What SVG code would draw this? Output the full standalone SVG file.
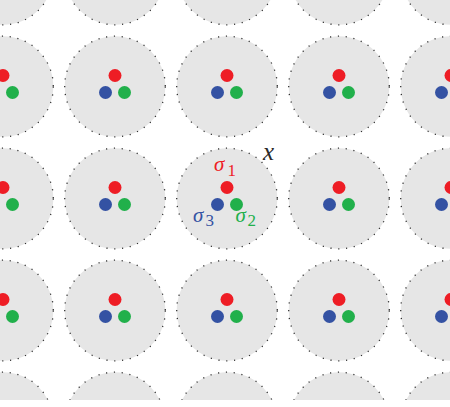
<svg xmlns="http://www.w3.org/2000/svg" xmlns:xlink="http://www.w3.org/1999/xlink" width="450" height="407" viewBox="0 0 450 407">
<style>
.disk{fill:#e6e6e6;stroke:#333;stroke-width:1.3;stroke-dasharray:1.2 6.65}
.r{fill:#ee1d25}.b{fill:#3452a3}.g{fill:#21b04b}
.lab{font-family:"Liberation Serif","DejaVu Serif",serif;font-style:italic}
.sub{font-family:"Liberation Serif","DejaVu Serif",serif;font-style:normal;font-size:17px}
.sig{font-size:21px}
</style>
<defs>
<clipPath id="frame"><rect x="0" y="0" width="450" height="400"/></clipPath>
<g id="cell">
<circle class="disk" cx="0" cy="0" r="50.3"/>
<circle class="r" cx="0" cy="-11" r="6.5"/>
<circle class="b" cx="-9.5" cy="6" r="6.5"/>
<circle class="g" cx="9.5" cy="6" r="6.5"/>
</g>
</defs>
<rect width="450" height="407" fill="#fff"/>
<g clip-path="url(#frame)">
<g id="row0">
<g id="n00"><use xlink:href="#cell" x="3" y="-25.5"/></g>
<g id="n01"><use xlink:href="#cell" x="115" y="-25.5"/></g>
<g id="n02"><use xlink:href="#cell" x="227" y="-25.5"/></g>
<g id="n03"><use xlink:href="#cell" x="339" y="-25.5"/></g>
<g id="n04"><use xlink:href="#cell" x="451" y="-25.5"/></g>
</g>
<g id="row1">
<g id="n10"><use xlink:href="#cell" x="3" y="86.5"/></g>
<g id="n11"><use xlink:href="#cell" x="115" y="86.5"/></g>
<g id="n12"><use xlink:href="#cell" x="227" y="86.5"/></g>
<g id="n13"><use xlink:href="#cell" x="339" y="86.5"/></g>
<g id="n14"><use xlink:href="#cell" x="451" y="86.5"/></g>
</g>
<g id="row2">
<g id="n20"><use xlink:href="#cell" x="3" y="198.5"/></g>
<g id="n21"><use xlink:href="#cell" x="115" y="198.5"/></g>
<g id="n22"><use xlink:href="#cell" x="227" y="198.5"/></g>
<g id="n23"><use xlink:href="#cell" x="339" y="198.5"/></g>
<g id="n24"><use xlink:href="#cell" x="451" y="198.5"/></g>
</g>
<g id="row3">
<g id="n30"><use xlink:href="#cell" x="3" y="310.5"/></g>
<g id="n31"><use xlink:href="#cell" x="115" y="310.5"/></g>
<g id="n32"><use xlink:href="#cell" x="227" y="310.5"/></g>
<g id="n33"><use xlink:href="#cell" x="339" y="310.5"/></g>
<g id="n34"><use xlink:href="#cell" x="451" y="310.5"/></g>
</g>
<g id="row4">
<g id="n40"><use xlink:href="#cell" x="3" y="422.5"/></g>
<g id="n41"><use xlink:href="#cell" x="115" y="422.5"/></g>
<g id="n42"><use xlink:href="#cell" x="227" y="422.5"/></g>
<g id="n43"><use xlink:href="#cell" x="339" y="422.5"/></g>
<g id="n44"><use xlink:href="#cell" x="451" y="422.5"/></g>
</g>
</g>
<g id="labels">
<text class="lab" x="263" y="160" font-size="25" fill="#2a2a2a">x</text>
<g id="lab-s1" fill="#ee1d25"><text class="lab sig" x="214" y="171">σ</text><text class="sub" x="227.5" y="176">1</text></g>
<g id="lab-s3" fill="#3452a3"><text class="lab sig" x="193" y="222">σ</text><text class="sub" x="205.5" y="226">3</text></g>
<g id="lab-s2" fill="#21b04b"><text class="lab sig" x="235.5" y="222">σ</text><text class="sub" x="247.5" y="226">2</text></g>
</g>
</svg>
